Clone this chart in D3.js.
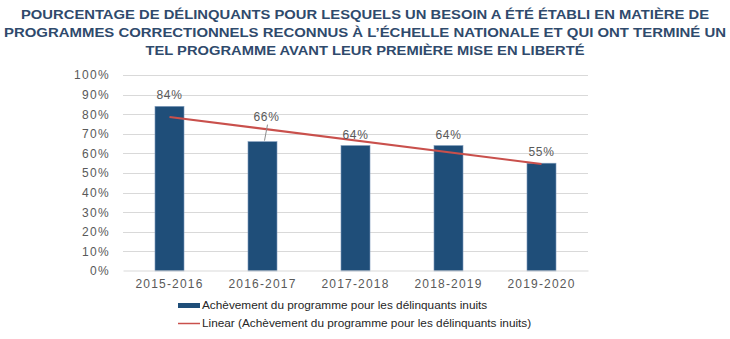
<!DOCTYPE html>
<html>
<head>
<meta charset="utf-8">
<script src="https://cdn.jsdelivr.net/npm/d3@7"></script>
<style>
  body { margin: 0; background: #fff; }
  svg { font-family: "Liberation Sans", Arial, sans-serif; }
</style>
</head>
<body>
<div id="chart"></div>
<script>
// data
var categories = ["2015-2016", "2016-2017", "2017-2018", "2018-2019", "2019-2020"];
var values = [0.84, 0.66, 0.64, 0.64, 0.55];
var yTicks = [0, 0.1, 0.2, 0.3, 0.4, 0.5, 0.6, 0.7, 0.8, 0.9, 1.0];
var titleLines = [
    "POURCENTAGE DE DÉLINQUANTS POUR LESQUELS UN BESOIN A ÉTÉ ÉTABLI EN MATIÈRE DE",
    "PROGRAMMES CORRECTIONNELS RECONNUS À L’ÉCHELLE NATIONALE ET QUI ONT TERMINÉ UN",
    "TEL PROGRAMME AVANT LEUR PREMIÈRE MISE EN LIBERTÉ"
];
var seriesName = "Achèvement du programme pour les délinquants inuits";
var trendName = "Linear (Achèvement du programme pour les délinquants inuits)";

var width = 730, height = 339;
var margin = { top: 75, right: 142, bottom: 68, left: 123 };

var svg = d3.select("#chart").append("svg")
    .attr("width", width)
    .attr("height", height);

var x_scale = d3.scaleBand()
    .domain(categories)
    .range([margin.left, width - margin.right])
    .paddingInner(0.688)
    .paddingOuter(0.344);

var y_scale = d3.scaleLinear()
    .domain([0, 1])
    .range([height - margin.bottom, margin.top]);

// title - stretched to the widths the original lines take
var titleWidths = [688, 722, 439];
svg.append("g").selectAll("text")
    .data(titleLines)
    .enter().append("text")
    .attr("x", 365)
    .attr("y", function(d, i) { return 19 + i * 18; })
    .attr("text-anchor", "middle")
    .attr("textLength", function(d, i) { return titleWidths[i]; })
    .attr("lengthAdjust", "spacingAndGlyphs")
    .style("font-size", "13px")
    .style("font-weight", "bold")
    .style("fill", "#2f4a6c")
    .text(function(d) { return d; });

// gridlines
svg.append("g").selectAll("line")
    .data(yTicks.slice(1))
    .enter().append("line")
    .attr("x1", margin.left)
    .attr("x2", width - margin.right)
    .attr("y1", function(d) { return Math.round(y_scale(d)) + 0.5; })
    .attr("y2", function(d) { return Math.round(y_scale(d)) + 0.5; })
    .style("stroke", "#d9d9d9")
    .style("stroke-width", 1);

// y axis labels
var yAxis = svg.append("g")
    .attr("transform", "translate(" + (margin.left - 10) + ",0)")
    .call(d3.axisLeft(y_scale).tickValues(yTicks).tickFormat(d3.format(".0%")).tickSize(0));
yAxis.select(".domain").remove();
yAxis.selectAll("text")
    .style("font-size", "12px")
    .style("letter-spacing", "1.3px")
    .style("fill", "#595959")
    .attr("font-family", null);

// bars
svg.append("g").selectAll("rect")
    .data(values)
    .enter().append("rect")
    .attr("x", function(d, i) { return x_scale(categories[i]); })
    .attr("width", x_scale.bandwidth())
    .attr("y", function(d) { return y_scale(d); })
    .attr("height", function(d) { return y_scale(0) - y_scale(d); })
    .style("fill", "#1f4e79")
    .style("stroke", "#7f9cbc")
    .style("stroke-width", 0.6);

// x axis
var xAxis = svg.append("g")
    .attr("transform", "translate(0," + (Math.round(y_scale(0)) - 0.5) + ")")
    .call(d3.axisBottom(x_scale).tickSize(0).tickPadding(9));
xAxis.select(".domain")
    .style("stroke", "#d9d9d9");
xAxis.selectAll("text")
    .style("font-size", "12px")
    .style("letter-spacing", "1.2px")
    .style("fill", "#595959")
    .attr("font-family", null);

// linear trend
var n = values.length;
var xs = d3.range(1, n + 1);
var mx = d3.mean(xs), my = d3.mean(values);
var slope = d3.sum(xs, function(v, i) { return (v - mx) * (values[i] - my); }) /
    d3.sum(xs, function(v) { return (v - mx) * (v - mx); });
var icpt = my - slope * mx;
var trend = categories.map(function(c, i) { return [c, icpt + slope * xs[i]]; });

svg.append("path")
    .datum([trend[0], trend[n - 1]])
    .attr("d", d3.line()
        .x(function(d) { return x_scale(d[0]) + x_scale.bandwidth() / 2; })
        .y(function(d) { return y_scale(d[1]); }))
    .style("fill", "none")
    .style("stroke", "#c9504c")
    .style("stroke-width", 2);

// data labels (the 2016-2017 one is pushed up with a leader line)
var labels = svg.append("g").selectAll("g")
    .data(values)
    .enter().append("g");

labels.append("text")
    .attr("x", function(d, i) { return x_scale(categories[i]) + x_scale.bandwidth() / 2 + (i === 1 ? 4 : 0); })
    .attr("y", function(d, i) { return y_scale(d) - (i === 1 ? 21 : 7); })
    .attr("text-anchor", "middle")
    .style("font-size", "12px")
    .style("letter-spacing", "0.6px")
    .style("fill", "#595959")
    .text(function(d) { return Math.round(d * 100) + "%"; });

labels.filter(function(d, i) { return i === 1; })
    .append("line")
    .attr("x1", function(d) { return x_scale(categories[1]) + x_scale.bandwidth() / 2 + 5; })
    .attr("y1", function(d) { return y_scale(d) - 17; })
    .attr("x2", function(d) { return x_scale(categories[1]) + x_scale.bandwidth() / 2 + 2; })
    .attr("y2", function(d) { return y_scale(d) - 1; })
    .style("stroke", "#8c8c8c")
    .style("stroke-width", 1);

// legend
var legend = svg.append("g");
legend.append("rect")
    .attr("x", 178).attr("y", 303)
    .attr("width", 22).attr("height", 5)
    .style("fill", "#1f4e79");
legend.append("text")
    .attr("x", 202).attr("y", 309)
    .style("font-size", "11.8px")
    .style("fill", "#262626")
    .text(seriesName);
legend.append("line")
    .attr("x1", 178).attr("x2", 200)
    .attr("y1", 323.5).attr("y2", 323.5)
    .style("stroke", "#c9504c")
    .style("stroke-width", 1.5);
legend.append("text")
    .attr("x", 202).attr("y", 327)
    .style("font-size", "11.8px")
    .style("fill", "#262626")
    .text(trendName);
</script>
</body>
</html>
